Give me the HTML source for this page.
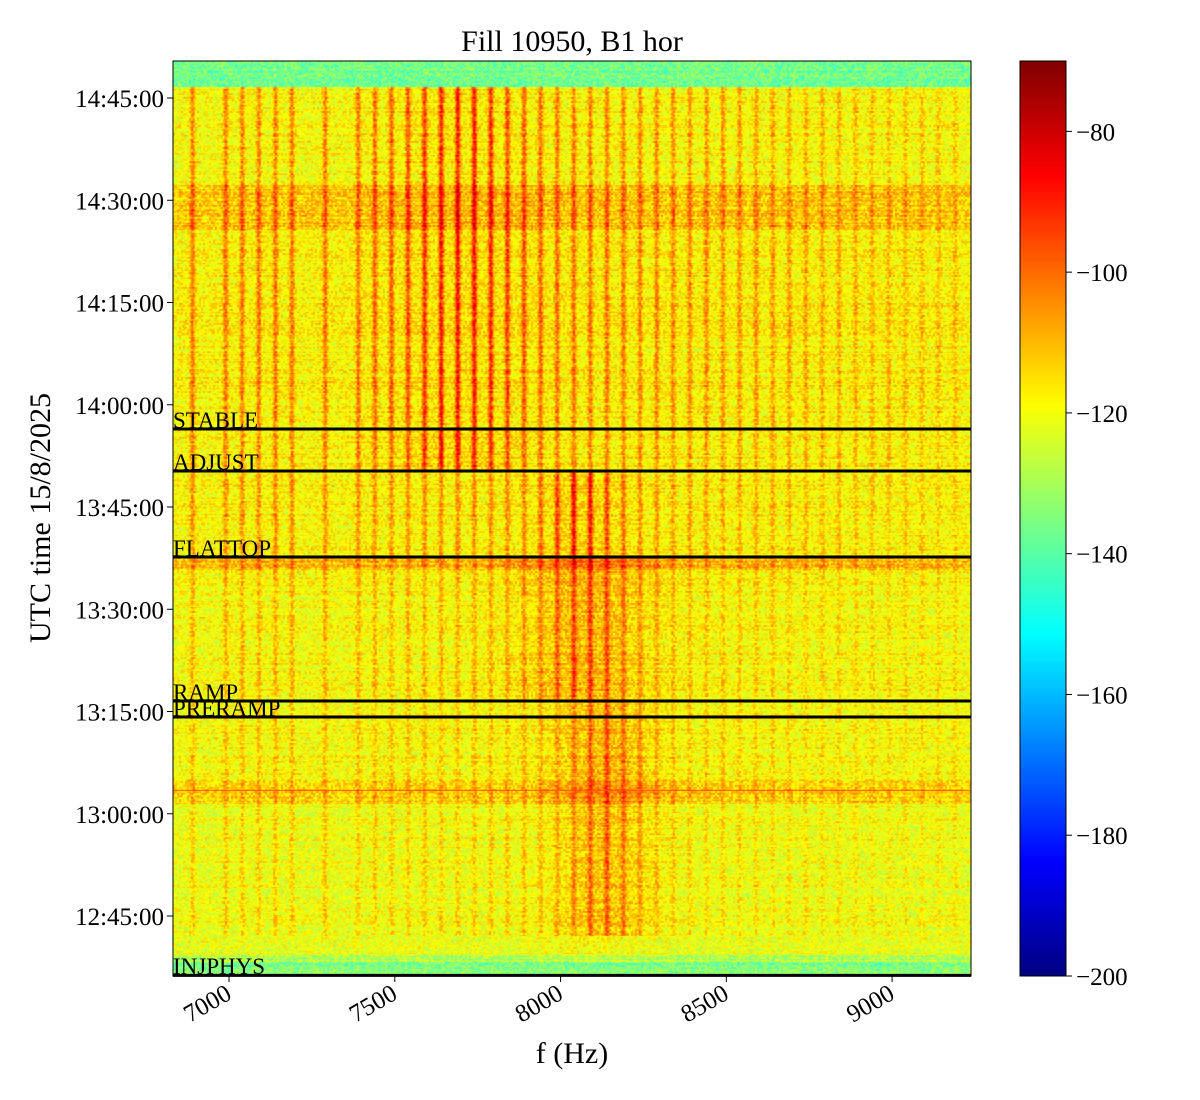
<!DOCTYPE html>
<html><head><meta charset="utf-8">
<style>
body{margin:0;background:#fff;}
#wrap{position:relative;width:1200px;height:1100px;background:#fff;font-family:"Liberation Serif",serif;color:#000;overflow:hidden;}
canvas{position:absolute;}
svg text{font-family:"Liberation Serif",serif;}
</style></head>
<body>
<div id="wrap">
<canvas id="spec" width="798" height="915" style="left:173px;top:61px"></canvas>
<canvas id="cbar" width="46" height="915" style="left:1020px;top:61px"></canvas>
<svg id="ov" width="1200" height="1100" style="position:absolute;left:0;top:0"></svg>
</div>
<script>
// ---- data ----
const fMin = 6831, fMax = 9238;          // Hz extent
const tTop = 170.43, tBot = 36.2;        // minutes after 12:00
const vMin = -200, vMax = -70;           // dB colour range
const xTicks = [7000, 7500, 8000, 8500, 9000];
const yTicks = [45, 60, 75, 90, 105, 120, 135, 150, 165]; // minutes after 12:00
const yTickLabels = ["12:45:00","13:00:00","13:15:00","13:30:00","13:45:00","14:00:00","14:15:00","14:30:00","14:45:00"];
const cTicks = [-80, -100, -120, -140, -160, -180, -200];
const eventNames = ["STABLE","ADJUST","FLATTOP","RAMP","PRERAMP","INJPHYS"];
const eventTimes = [116.45, 110.29, 97.67, 76.55, 74.2, 36.3];
// background level bands (start minute top, end minute bottom, dB)
const bandTop = [170.43, 166.6, 152.2, 145.6, 120, 97.5, 95.8, 65, 61.5, 39.5, 38.2];
const bandBot = [166.6, 152.2, 145.6, 120, 97.5, 95.8, 65, 61.5, 39.5, 38.2, 36.2];
const bandLevel = [-136, -119, -112, -118, -118, -111, -119, -113, -121, -128, -136];
// harmonic line frequencies (Hz)
const lineFreqs = [6890,6990,7040,7090,7140,7190,7290,7390,7440,7490,7540,7590,7640,7690,7740,7790,7840,7890,7940,7990,8040,8090,8140,8190,8240,8290,8340,8390,8440,8490,8540,8590,8640,8690,8740,8790,8840,8890,8940,8990,9040,9090,9140,9190];
// time segments (minutes)
const segTop = [166.6, 116.45, 110.29, 97.67, 76.5, 42];
const segBot = [116.45, 110.29, 97.67, 76.5, 42, 36.2];
const lineBase = [16, 15, 13, 10, 8, 0];
const hotCenter = [7700, 7690, 8060, 8080, 8130, 8100];
const hotWidth = [170, 150, 90, 110, 90, 80];
const hotBoost = [12, 13, 16, 8, 7, 0];
const blobLevel = [2, 4, 4, 9, 9, 3];

const W = 798, H = 915;
const xOf = f => 173 + (f - fMin) / (fMax - fMin) * W;
const yOf = t => 61 + (tTop - t) / (tTop - tBot) * H;

function jet(t){
  t = Math.max(0, Math.min(1, t));
  const c = v => Math.round(255 * Math.max(0, Math.min(1, v)));
  return [c(1.5 - Math.abs(4*t-3)), c(1.5 - Math.abs(4*t-2)), c(1.5 - Math.abs(4*t-1))];
}
function hash(a,b){ let h = (a*374761393 + b*668265263) ^ 0x5bd1e995; h = (h ^ (h>>>13)) * 1274126177; h = h ^ (h>>>16); return ((h>>>0) % 10000) / 10000; }

const segProfiles = segTop.map((_, s) => {
  const arr = new Float32Array(W);
  for (let x = 0; x < W; x++) {
    const f = fMin + (x + 0.5) / W * (fMax - fMin);
    let v = 0;
    const dh = (f - hotCenter[s]) / hotWidth[s];
    const hot = Math.exp(-dh*dh);
    for (const lf of lineFreqs) {
      const d = (f - lf) / 8;
      if (Math.abs(d) < 4) {
        const amp = lineBase[s] * (1 - 0.55 * Math.min(1, Math.max(0, lf - 8100) / 1000)) + hotBoost[s] * hot;
        v = Math.max(v, amp * Math.exp(-d*d));
      }
    }
    v += blobLevel[s] * Math.exp(-dh*dh/3);
    arr[x] = v;
  }
  return arr;
});

const ctx = document.getElementById('spec').getContext('2d');
const img = ctx.createImageData(W, H);
for (let y = 0; y < H; y++) {
  const t = tTop - (y + 0.5) / H * (tTop - tBot);
  let bg = -118;
  for (let i = 0; i < bandTop.length; i++) if (t <= bandTop[i] && t > bandBot[i]) bg = bandLevel[i];
  let s = -1;
  for (let i = 0; i < segTop.length; i++) if (t <= segTop[i] && t > segBot[i]) s = i;
  const rowN = (hash(y, 7) - 0.5) * 6;
  const rowQ = Math.floor(y / 2);
  for (let x = 0; x < W; x++) {
    let v = bg + rowN + (hash(x >> 1, rowQ) - 0.5) * 14;
    if (s >= 0 && bg > -130) v += segProfiles[s][x];
    if (Math.abs(y - 729) < 1) v = -97;
    const c = jet((v - vMin) / (vMax - vMin));
    const k = (y * W + x) * 4;
    img.data[k] = c[0]; img.data[k+1] = c[1]; img.data[k+2] = c[2]; img.data[k+3] = 255;
  }
}
ctx.putImageData(img, 0, 0);

const cb = document.getElementById('cbar').getContext('2d');
for (let y = 0; y < H; y++) {
  const c = jet(1 - y / H);
  cb.fillStyle = `rgb(${c[0]},${c[1]},${c[2]})`;
  cb.fillRect(0, y, 46, 1);
}

const NS = 'http://www.w3.org/2000/svg';
const ov = document.getElementById('ov');
function mk(tag, attrs, text){ const e = document.createElementNS(NS, tag); for (const k in attrs) e.setAttribute(k, attrs[k]); if (text !== undefined) e.textContent = text; ov.appendChild(e); return e; }

eventNames.forEach((n, i) => {
  const y = yOf(eventTimes[i]);
  const ln = mk('line', {x1:173, x2:971, y1:y, y2:y, stroke:'#000', 'stroke-width':3});
  
  
  const tx = mk('text', {x:173, y:Math.min(y - 1, 974), 'font-size':23}, n);
  
  
});

const fr = mk('rect', {x:173, y:61, width:798, height:915, fill:'none', stroke:'#000', 'stroke-width':1});


const cf = mk('rect', {x:1020, y:61, width:46, height:915, fill:'none', stroke:'#000', 'stroke-width':1});



xTicks.forEach(f => {
  const x = xOf(f);
  mk('line', {x1:x, x2:x, y1:976, y2:982, stroke:'#000', 'stroke-width':1});
  const tx = mk('text', {x:x + 4, y:998, 'font-size':25, 'text-anchor':'end', transform:`rotate(-30 ${x+4} 998)`}, String(f));
  
  
});
yTicks.forEach((t, i) => {
  const y = yOf(t);
  mk('line', {x1:167, x2:173, y1:y, y2:y, stroke:'#000', 'stroke-width':1});
  const tx = mk('text', {x:164, y:y + 9, 'font-size':25, 'text-anchor':'end'}, yTickLabels[i]);
  
  
});
cTicks.forEach(v => {
  const y = 61 + (vMax - v) / (vMax - vMin) * H;
  mk('line', {x1:1066, x2:1072, y1:y, y2:y, stroke:'#000', 'stroke-width':1});
  const tx = mk('text', {x:1076, y:y + 9, 'font-size':25}, '\u2212' + Math.abs(v));
  
  
});
const ti = mk('text', {x:572, y:51, 'font-size':30, 'text-anchor':'middle'}, 'Fill 10950, B1 hor');


const xl = mk('text', {x:572, y:1063, 'font-size':30, 'text-anchor':'middle'}, 'f (Hz)');


const yl = mk('text', {x:50, y:518, 'font-size':30, 'text-anchor':'middle', transform:'rotate(-90 50 518)'}, 'UTC time 15/8/2025');


</script>
</body></html>
